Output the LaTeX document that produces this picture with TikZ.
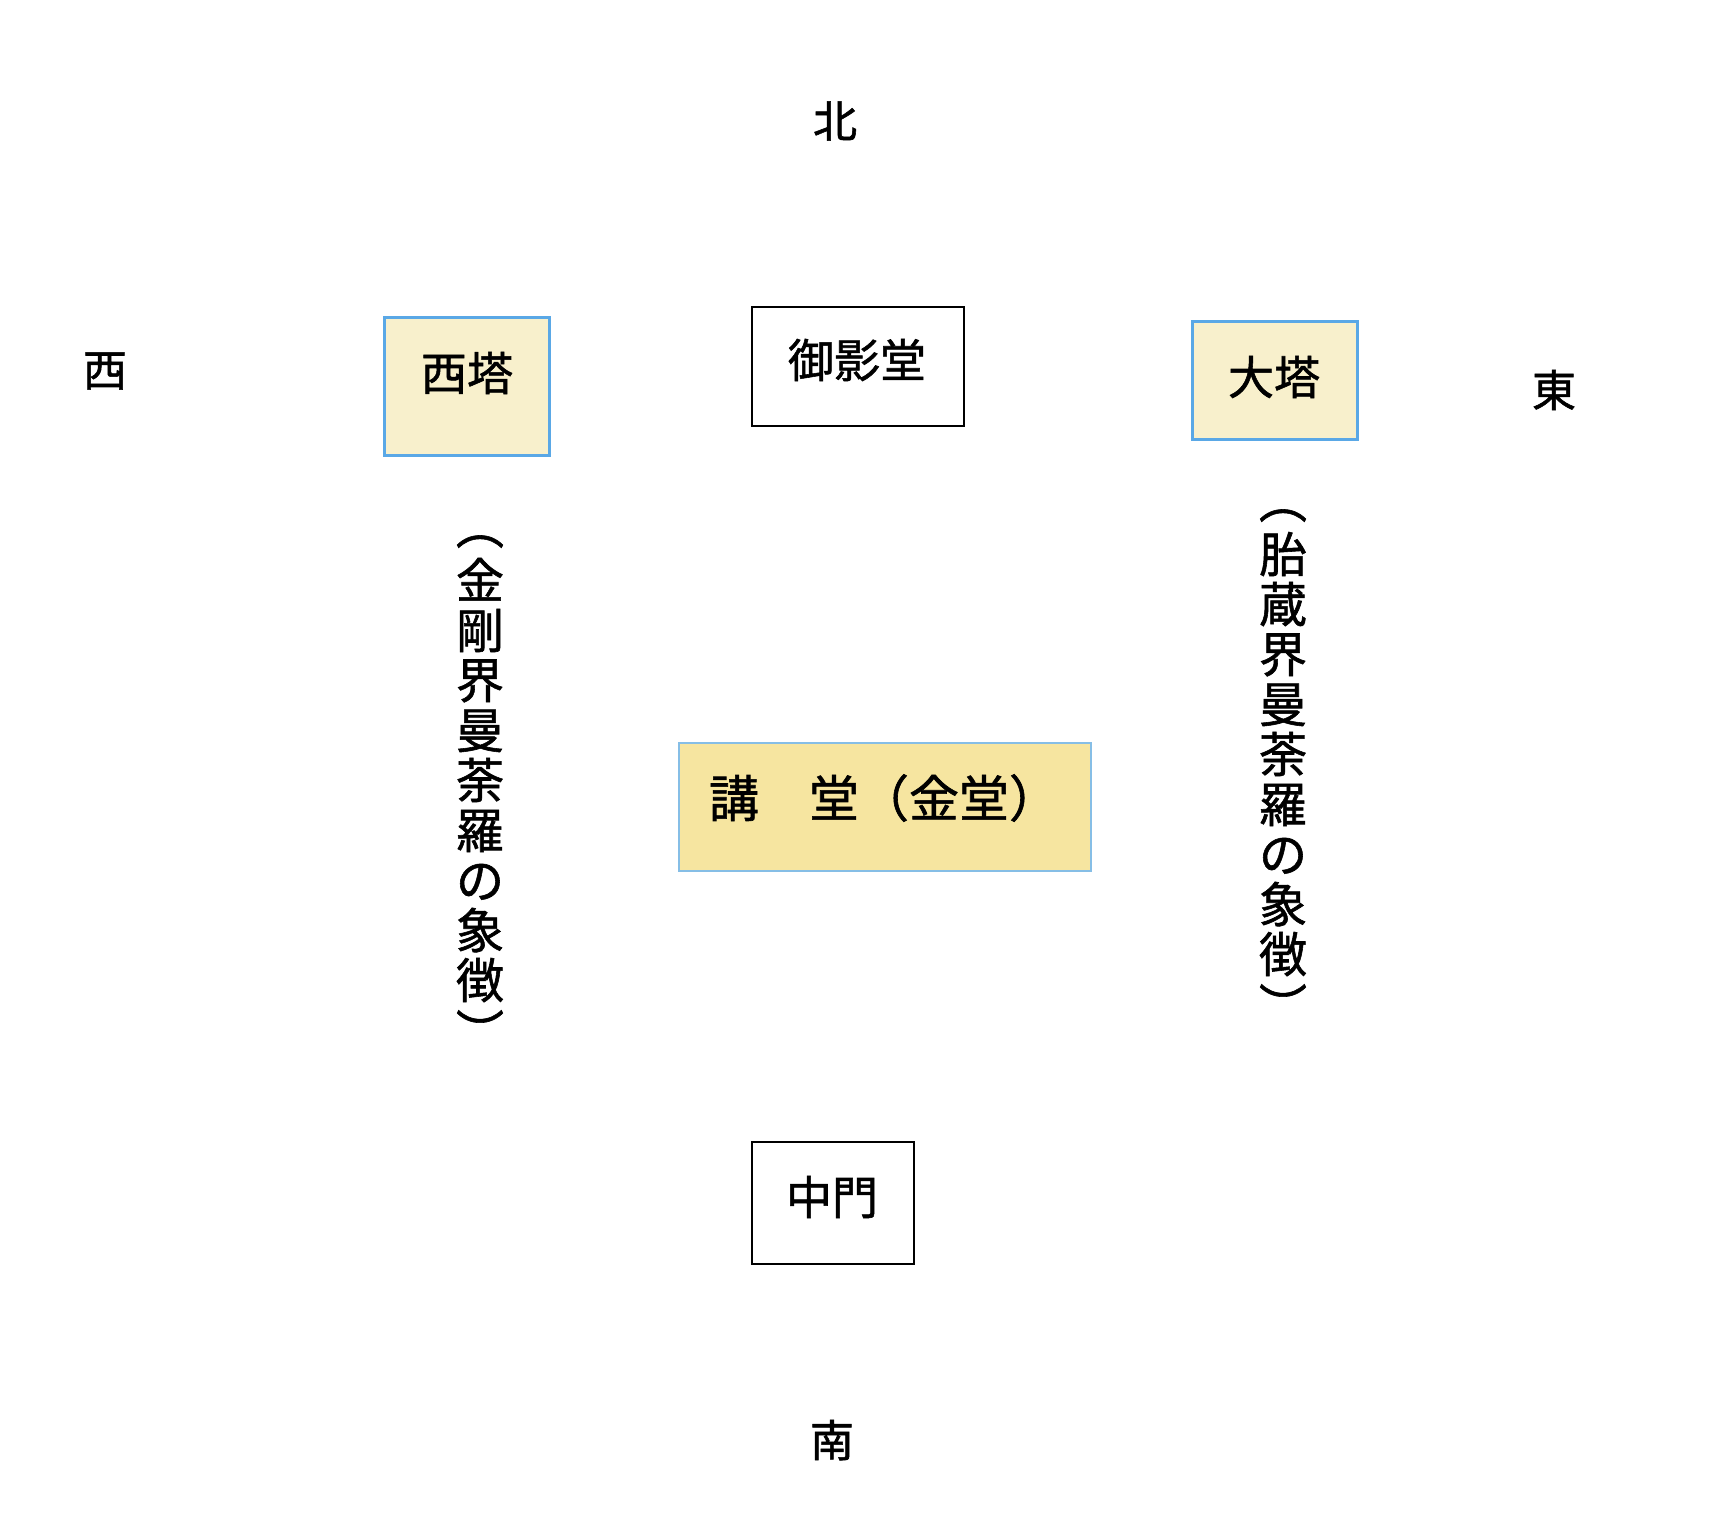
\documentclass[tikz,border=0pt]{standalone}
\usepackage{fontspec}
\setmainfont{Noto Sans CJK JP}[FakeBold=1.2]
\definecolor{paleyel}{HTML}{F8F0CC}
\definecolor{deepyel}{HTML}{F6E5A0}
\definecolor{tblue}{HTML}{5AA8E6}
\definecolor{lblue}{HTML}{86BEE6}
\begin{document}
\begin{tikzpicture}[x=0.5pt,y=-0.5pt]
\useasboundingbox[fill=white] (0,0) rectangle (1722,1530);
\tikzset{
 bwbox/.style={draw=black, line width=1pt, fill=white, inner sep=0pt},
 towerbox/.style={draw=tblue, line width=1.5pt, fill=paleyel, inner sep=0pt},
 hallbox/.style={draw=lblue, line width=1pt, fill=deepyel, inner sep=0pt},
 lbl/.style={font=\fontsize{23}{23}\selectfont, inner sep=0pt},
 dirlbl/.style={font=\fontsize{22}{22}\selectfont, inner sep=0pt},
 vert/.style={font=\fontsize{24}{25}\selectfont, align=center, inner sep=0pt}
}
% boxes
\node[towerbox, minimum width=82.5pt, minimum height=69pt] (saito) at (466.5,386) {};
\node[bwbox, minimum width=106pt, minimum height=59.5pt] (mieido) at (858,366.5) {};
\node[towerbox, minimum width=82.5pt, minimum height=59pt] (daito) at (1274.5,380) {};
\node[hallbox, minimum width=206pt, minimum height=64pt] (kodo) at (885,807) {};
\node[bwbox, minimum width=81pt, minimum height=61pt] (chumon) at (833,1203) {};
% box labels
\node[lbl] (saitot) at (467,373) {西塔};
\node[lbl] (mieidot) at (857,360) {御影堂};
\node[lbl] (daitot) at (1274,377) {大塔};
\node[lbl, font=\fontsize{25}{25}\selectfont] (kodot) at (884,798) {講　堂（金堂）};
\node[lbl] (chumont) at (832,1197) {中門};
% directions
\node[dirlbl] (north) at (835,121) {北};
\node[dirlbl] (south) at (832,1440) {南};
\node[dirlbl] (west) at (105,371) {西};
\node[dirlbl] (east) at (1554,390) {東};
% vertical captions
\node[vert, anchor=north] (kongo) at (480,535) {︵\\[2pt]金\\剛\\界\\曼\\荼\\羅\\の\\象\\徴\\[1pt]︶};
\node[vert, anchor=north] (taizo) at (1283,509) {︵\\[2pt]胎\\蔵\\界\\曼\\荼\\羅\\の\\象\\徴\\[1pt]︶};
\end{tikzpicture}
\end{document}
